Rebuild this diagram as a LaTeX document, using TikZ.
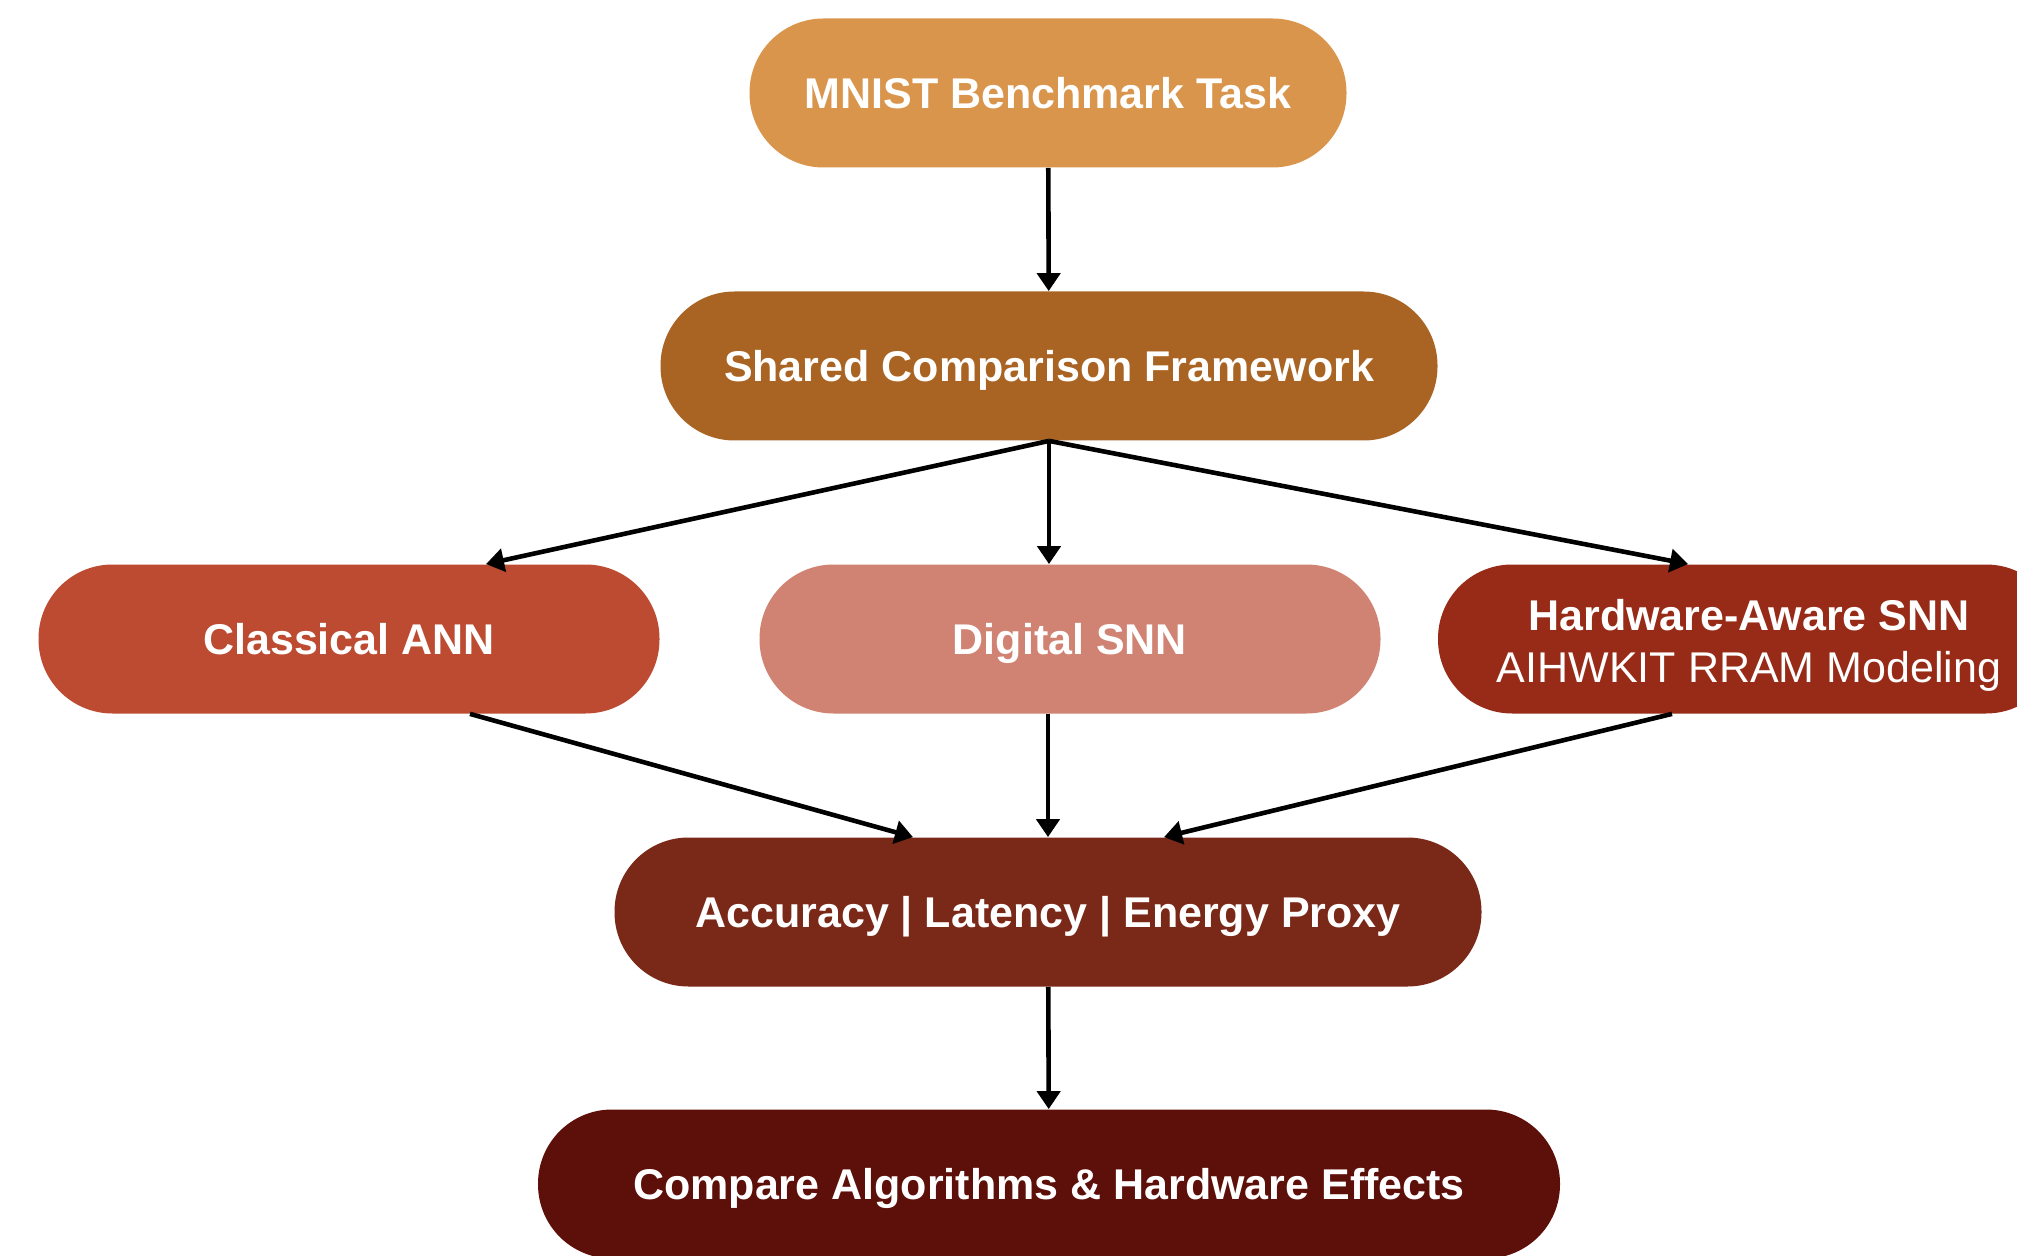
\documentclass[tikz,border=0pt]{standalone}
\usepackage{fontspec}
\setmainfont{Liberation Sans}
\usetikzlibrary{arrows.meta,positioning}

\definecolor{taskc}{HTML}{D9954B}
\definecolor{sharedc}{HTML}{A96424}
\definecolor{annc}{HTML}{BC4B31}
\definecolor{snnc}{HTML}{D08372}
\definecolor{hwc}{HTML}{972B17}
\definecolor{metricc}{HTML}{7A2818}
\definecolor{comparec}{HTML}{5D0F09}

\tikzset{
  stage/.style={rectangle, rounded corners=37pt, minimum height=74.5pt,
    text=white, align=center, inner sep=0pt,
    font=\fontsize{21.5}{25}\selectfont\bfseries},
  oneline/.style={text height=15.4pt, text depth=0pt},
  flow/.style={-{Triangle[length=9pt,width=11.5pt]}, line width=2.3pt, draw=black}
}

\begin{document}
\begin{tikzpicture}[x=0.5pt,y=-0.5pt]
  \useasboundingbox (0,0) rectangle (2017,1256);
  \clip (0,0) rectangle (2017,1256);

  \node[stage, oneline, fill=taskc, minimum width=298.5pt] (task) at (1048,93) {MNIST Benchmark Task};
  \node[stage, oneline, fill=sharedc, minimum width=388.5pt] (shared) at (1049,366) {Shared Comparison Framework};

  \node[stage, oneline, fill=annc, minimum width=310.5pt] (ann) at (349,639) {Classical ANN};
  \node[stage, oneline, fill=snnc, minimum width=310.5pt] (snn) at (1070,639) {Digital SNN};
  \node[stage, fill=hwc, minimum width=311pt] (hw) at (1749,639) {};
  \node[text=white, align=center, font=\fontsize{21.5}{26}\selectfont] (hwtext) at ([yshift=-3.2pt]hw.center)
    {\bfseries Hardware-Aware SNN\\AIHWKIT RRAM Modeling};

  \node[stage, oneline, fill=metricc, minimum width=433.5pt] (metric) at (1048,912) {Accuracy | Latency | Energy Proxy};
  \node[stage, oneline, fill=comparec, minimum width=511pt] (compare) at (1049,1184) {Compare Algorithms \& Hardware Effects};

  \draw[flow] (task) -- (shared);

  \draw[flow] (shared.south) -- ([xshift=68.5pt]ann.north);
  \draw[flow] (shared.south) -- ([xshift=-10.5pt]snn.north);
  \draw[flow] (shared.south) -- ([xshift=-30.5pt]hw.north);

  \draw[flow] ([xshift=60.5pt]ann.south) -- ([xshift=-67.5pt]metric.north);
  \draw[flow] ([xshift=-11pt]snn.south) -- (metric.north);
  \draw[flow] ([xshift=-38.5pt]hw.south) -- ([xshift=58pt]metric.north);

  \draw[flow] (metric) -- (compare);
\end{tikzpicture}
\end{document}
